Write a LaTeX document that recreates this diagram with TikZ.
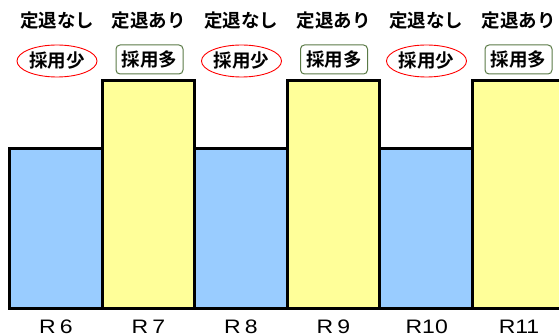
\documentclass[tikz,border=0pt]{standalone}
\usepackage{fontspec}
\setmainfont{Liberation Sans}
\newfontfamily\jp{Noto Sans CJK JP Bold}
\usetikzlibrary{shapes.geometric}
\definecolor{barblue}{HTML}{99CCFF}
\definecolor{baryellow}{HTML}{FFFF99}
\definecolor{boxgreen}{HTML}{5A7A46}
\newcommand{\yrtext}[1]{\scalebox{1.18}[1]{#1}}
\begin{document}
\begin{tikzpicture}[x=1pt,y=-1pt,
  bar/.style={draw=black,line width=3pt},
  head/.style={font=\jp\fontsize{18.5}{19}\selectfont,inner sep=0pt},
  few/.style={draw=red,line width=0.9pt,ellipse,minimum width=80pt,minimum height=32pt,inner sep=0pt,font=\jp\fontsize{18.5}{19}\selectfont},
  many/.style={draw=boxgreen,line width=1pt,rounded corners=4pt,minimum width=67pt,minimum height=29pt,inner sep=0pt,font=\jp\fontsize{18.5}{19}\selectfont},
  yr/.style={font=\fontsize{19.5}{20}\selectfont,inner sep=0pt}]
\useasboundingbox (0,0) rectangle (559,336);
% bars
\path[bar,fill=barblue] (9.5,148.5) rectangle (102,308.5);
\path[bar,fill=baryellow] (102,80.5) rectangle (194.5,308.5);
\path[bar,fill=barblue] (194.5,148.5) rectangle (287,308.5);
\path[bar,fill=baryellow] (287,80.5) rectangle (379.5,308.5);
\path[bar,fill=barblue] (379.5,148.5) rectangle (472,308.5);
\path[bar,fill=baryellow] (472,80.5) rectangle (575,308.5);
% headings
\node[head] (h1) at (57,21) {定退なし};
\node[head] (h2) at (148.5,21) {定退あり};
\node[head] (h3) at (241,21) {定退なし};
\node[head] (h4) at (333.5,21) {定退あり};
\node[head] (h5) at (426,21) {定退なし};
\node[head] (h6) at (518.5,21) {定退あり};
% tags
\node[few] (t1) at (57,61) {採用少};
\node[many] (t2) at (149.5,59.5) {採用多};
\node[few] (t3) at (241.5,61) {採用少};
\node[many] (t4) at (334,59.5) {採用多};
\node[few] (t5) at (426.5,61) {採用少};
\node[many] (t6) at (518.5,59.5) {採用多};
% year labels
\node[yr] (r6) at (56,326.5) {\yrtext{R\hspace{0.18em}6}};
\node[yr] (r7) at (148.5,326.5) {\yrtext{R\hspace{0.18em}7}};
\node[yr] (r8) at (241,326.5) {\yrtext{R\hspace{0.18em}8}};
\node[yr] (r9) at (333.5,326.5) {\yrtext{R\hspace{0.18em}9}};
\node[yr] (r10) at (426.7,326.5) {\yrtext{R10}};
\node[yr] (r11) at (519,326.5) {\yrtext{R11}};
\end{tikzpicture}
\end{document}
